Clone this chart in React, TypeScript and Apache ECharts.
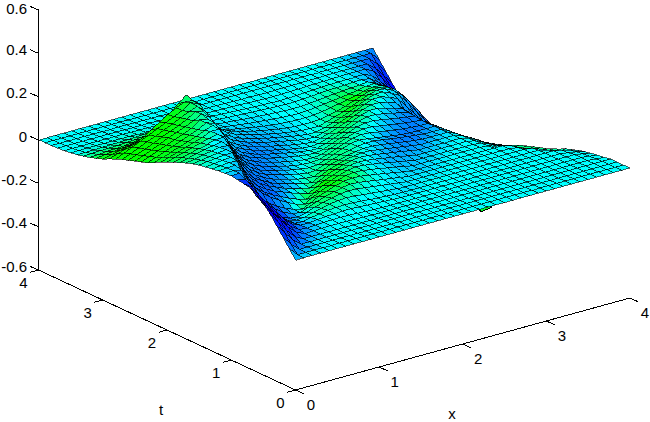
import React, { useEffect, useRef } from "react";
import * as echarts from "echarts";

// Surface heights in thousandths; one row per t (0 .. 4, step 0.1), one column per x (0 .. 4, step 0.1)
const zRows: number[][] = [
[0,0,0,0,0,0,0,0,0,0,0,0,0,0,0,0,0,0,0,0,0,0,0,0,0,0,0,0,0,0,0,0,0,0,0,0,0,0,0,0,0],
[40,0,0,0,0,0,0,0,0,0,0,0,0,0,0,0,0,0,0,0,0,0,0,0,0,0,0,0,0,0,0,0,0,0,0,0,0,0,0,0,0],
[80,35,0,0,0,0,0,0,0,0,0,0,0,0,0,0,0,0,0,0,0,0,0,0,0,0,0,0,0,0,0,0,0,0,0,0,0,0,0,0,0],
[120,75,30,0,0,0,0,0,0,0,0,0,0,0,0,0,0,0,0,0,0,0,0,0,0,0,0,0,0,0,0,0,0,0,0,0,0,0,0,0,0],
[160,110,60,20,0,0,0,0,0,0,0,0,0,0,0,0,0,0,0,0,0,0,0,0,0,0,0,0,0,0,0,0,0,0,0,0,0,0,0,-3,-6],
[190,140,95,50,15,0,2,3,4,4,3,2,1,0,0,0,0,0,0,0,0,0,0,0,0,0,0,0,0,0,0,0,0,0,0,0,0,0,0,-4,-10],
[215,165,115,70,30,5,0,3,5,7,8,7,5,3,1,0,0,0,0,0,0,0,0,0,0,0,0,0,0,0,0,0,0,0,0,0,0,0,0,-7,-15],
[235,195,145,95,50,15,0,0,5,8,10,12,12,10,8,6,4,2,0,0,0,0,0,0,0,0,0,0,0,0,0,0,0,0,0,0,0,0,-5,-12,-22],
[240,215,160,105,55,15,-5,-8,0,6,12,15,16,15,12,9,6,3,1,0,0,0,0,0,0,0,0,0,0,0,0,0,0,0,0,0,0,0,-8,-18,-30],
[245,235,180,120,65,20,-5,-15,-12,0,8,16,22,25,22,18,14,10,6,3,0,0,0,0,0,0,0,0,0,0,0,0,0,0,0,0,0,-10,-28,-42,-40],
[250,252,190,125,70,25,-5,-20,-25,-15,0,10,20,28,32,30,25,20,15,10,5,0,0,0,0,0,0,0,0,0,0,0,0,0,0,0,-5,-20,-40,-58,-50],
[248,250,240,170,105,55,20,-8,-22,-30,-15,0,12,24,34,38,36,30,24,18,12,6,0,0,0,0,0,0,0,0,0,0,0,0,0,-5,-22,-42,-62,-72,-65],
[245,248,250,185,120,70,32,8,-12,-28,-38,-20,0,14,28,38,42,40,34,28,21,14,7,0,0,0,0,0,0,0,0,0,0,0,0,-10,-30,-52,-72,-85,-78],
[240,244,248,245,170,105,65,35,12,-10,-28,-40,-20,0,14,28,40,44,42,36,30,22,15,8,0,0,0,0,0,0,0,0,0,-4,-15,-30,-50,-72,-90,-98,-90],
[235,240,245,248,200,125,75,45,22,3,-15,-30,-42,-22,0,14,28,40,45,42,36,30,22,15,8,0,0,0,0,0,0,0,0,-5,-20,-38,-58,-78,-96,-105,-100],
[230,236,240,245,245,175,100,60,35,15,0,-15,-28,-40,-20,0,14,28,38,42,40,35,28,22,15,8,0,0,0,0,0,0,0,-8,-25,-45,-65,-85,-103,-115,-110],
[222,228,234,240,245,215,135,80,48,25,8,-8,-20,-30,-38,-20,0,14,26,36,40,38,32,26,20,14,7,0,0,0,0,0,0,-10,-28,-50,-72,-92,-110,-122,-120],
[212,220,228,235,242,240,170,100,60,35,15,0,-12,-22,-32,-38,-18,0,12,24,32,36,35,30,24,18,12,6,0,0,0,0,0,-12,-32,-55,-78,-98,-116,-128,-130],
[200,210,220,228,236,243,210,135,80,48,25,8,-5,-15,-25,-32,-35,-18,0,10,20,28,32,32,28,22,16,10,5,0,0,0,0,-15,-38,-62,-85,-105,-122,-135,-145],
[188,198,208,218,228,238,240,175,105,62,35,15,2,-8,-18,-26,-32,-30,-15,0,10,20,28,32,32,26,20,15,10,5,0,0,0,-18,-42,-68,-90,-110,-128,-145,-160],
[175,187,198,209,220,230,240,215,140,80,45,22,8,-2,-12,-20,-27,-32,-28,-15,0,15,28,32,28,22,16,10,5,2,0,0,0,-20,-45,-72,-97,-118,-138,-157,-175],
[160,172,185,197,210,222,240,238,170,100,58,32,15,2,-8,-17,-25,-30,-32,-28,-15,0,14,27,33,30,24,18,12,7,3,0,0,-22,-50,-78,-105,-128,-150,-170,-188],
[145,160,172,185,198,212,228,243,205,125,72,42,22,8,-3,-12,-20,-27,-33,-35,-30,-15,0,15,28,35,34,28,22,15,10,5,0,-25,-52,-82,-110,-135,-158,-180,-200],
[130,145,160,175,190,205,220,240,228,160,90,52,30,15,3,-7,-15,-23,-30,-35,-38,-30,-15,0,15,30,38,38,32,25,18,12,5,-28,-58,-88,-118,-145,-170,-192,-212],
[120,135,150,165,180,195,212,240,232,190,115,65,38,20,7,-3,-12,-20,-28,-35,-40,-40,-30,-15,0,16,32,42,42,35,27,18,8,-30,-62,-95,-125,-155,-180,-205,-222],
[110,125,140,157,175,190,205,222,243,215,145,82,48,28,12,0,-10,-18,-27,-35,-42,-46,-42,-30,-15,0,18,35,46,45,36,25,12,-32,-68,-105,-140,-170,-195,-215,-230],
[100,115,130,147,165,180,197,215,240,230,180,105,60,35,18,5,-6,-15,-24,-32,-40,-46,-50,-42,-30,-15,0,18,36,48,48,38,25,-15,-50,-90,-130,-165,-195,-220,-235],
[90,105,122,140,155,172,190,208,225,240,205,135,78,45,25,10,-2,-12,-20,-28,-36,-44,-50,-52,-42,-30,-15,0,18,36,50,50,38,20,-25,-70,-115,-158,-195,-222,-240],
[78,95,112,130,147,165,182,200,218,243,225,165,95,55,32,15,2,-8,-17,-25,-33,-40,-47,-52,-52,-42,-30,-15,0,18,35,48,48,32,10,-35,-85,-135,-180,-220,-245],
[65,78,90,100,120,145,170,195,215,232,228,190,120,68,40,20,6,-5,-14,-22,-30,-37,-43,-48,-50,-50,-40,-28,-14,0,16,32,42,38,20,-10,-55,-105,-160,-210,-248],
[50,60,68,75,85,100,120,145,175,210,240,190,120,70,42,22,8,-3,-12,-20,-27,-34,-39,-43,-45,-45,-42,-35,-26,-14,0,14,26,30,22,0,-40,-95,-155,-215,-250],
[40,46,50,54,58,65,75,90,110,135,155,125,85,52,30,15,4,-4,-11,-18,-24,-29,-33,-36,-38,-38,-36,-31,-24,-17,-9,0,10,18,15,-5,-40,-90,-150,-210,-245],
[30,33,36,38,40,44,50,58,68,80,85,70,50,32,18,8,1,-4,-9,-14,-18,-22,-26,-29,-31,-32,-30,-26,-21,-16,-11,-6,0,8,10,-10,-50,-105,-160,-210,-240],
[22,24,26,27,28,30,33,36,40,45,48,42,32,22,13,6,1,-3,-6,-10,-13,-16,-19,-21,-23,-25,-24,-21,-17,-13,-9,-6,-3,0,4,-12,-45,-90,-140,-190,-235],
[15,15,16,17,18,19,20,22,24,26,28,25,20,14,9,4,1,-1,-4,-6,-9,-11,-13,-15,-16,-18,-17,-15,-12,-9,-7,-5,-3,-1,0,-5,-30,-70,-115,-165,-215],
[10,10,11,11,11,11,11,11,10,10,9,8,7,5,4,2,0,-1,-3,-5,-7,-9,-11,-12,-14,-15,-14,-12,-10,-8,-6,-4,-3,-2,-1,0,-15,-50,-95,-140,-190],
[6,6,6,7,7,7,7,7,6,6,5,5,4,3,2,1,0,-1,-2,-3,-4,-5,-7,-8,-9,-10,-9,-8,-7,-5,-4,-3,-2,-1,0,0,0,-20,-60,-110,-160],
[4,4,4,4,4,4,4,4,4,3,3,3,2,2,1,1,0,-1,-1,-2,-2,-3,-4,-4,-5,-6,-5,-4,-4,-3,-2,-2,-1,0,0,0,0,0,-30,-75,-120],
[2,2,2,2,2,2,2,2,2,2,1,1,1,1,0,0,0,0,0,0,0,0,0,0,0,0,0,0,0,0,0,0,0,0,0,0,0,0,0,-35,-80],
[1,1,1,1,1,1,1,1,1,1,0,0,0,0,0,0,0,0,0,0,0,0,0,0,0,0,0,0,0,0,0,0,0,0,0,0,0,0,0,0,-40],
[0,0,0,0,0,0,0,0,0,0,0,0,0,0,0,0,0,0,0,0,0,0,0,0,0,0,0,0,0,0,0,0,0,0,0,0,0,0,0,0,0],
];

// Colour index: -10 blue, 0 cyan, +10 green; rows t = 0, 0.2 .. 4, columns x = 0, 0.2 .. 4
const colorRows: number[][] = [
[-3,-1,0,0,0,0,0,0,0,0,0,0,0,0,0,0,0,0,0,0,0],
[-8,-5,-1,0,0,0,0,0,0,0,0,0,0,0,0,0,0,0,0,0,0],
[-10,-9,-5,-1,0,0,0,0,0,0,0,0,0,0,0,0,0,0,0,0,0],
[-10,-10,-8,-3,0,0,0,0,0,0,0,0,0,0,0,0,0,0,0,0,0],
[-8,-9,-8,-4,2,3,2,0,0,-1,-1,0,0,0,0,0,0,0,0,0,2],
[-2,-5,-8,-7,-2,5,6,4,1,0,-1,-1,-1,0,0,0,0,0,0,1,5],
[1,-2,-6,-6,-3,4,8,9,6,1,-1,-2,-2,-1,0,0,0,0,0,2,6],
[2,0,-3,-6,-6,-2,6,10,7,2,-1,-3,-3,-2,-1,0,0,0,0,2,8],
[4,2,-2,-5,-6,-5,-2,4,8,6,1,-2,-4,-4,-3,-1,0,0,0,1,8],
[6,5,0,-3,-5,-5,-4,0,4,6,4,0,-3,-5,-5,-3,-1,0,0,0,4],
[8,8,6,-1,-3,-5,-5,-3,0,3,5,3,0,-3,-5,-5,-3,-1,0,0,0],
[9,9,8,3,-2,-4,-5,-4,-2,1,3,5,3,0,-3,-5,-5,-3,-1,0,0],
[10,10,9,7,0,-2,-4,-5,-4,-2,0,3,6,4,0,-3,-5,-5,-3,-2,-1],
[10,10,10,9,4,-1,-2,-4,-4,-3,-1,0,4,8,5,0,-3,-5,-5,-4,-3],
[10,10,10,10,8,1,-1,-2,-3,-3,-2,-1,1,5,9,6,0,-3,-5,-7,-7],
[9,10,10,10,10,4,0,-1,-2,-2,-2,-1,0,2,6,10,6,-1,-5,-9,-10],
[4,5,6,7,6,2,0,0,-1,-1,-1,0,0,1,3,6,4,-3,-6,-10,-10],
[0,1,1,2,2,0,0,0,0,0,0,0,0,0,1,2,1,-2,-5,-9,-10],
[0,0,0,0,0,0,0,0,0,0,0,0,0,0,0,0,0,-1,-5,-9,-10],
[0,0,0,0,0,0,0,0,0,0,0,0,0,0,0,0,0,0,-3,-6,-8],
[0,0,0,0,0,0,0,0,0,0,0,0,0,0,0,0,0,0,-1,-2,-3],
];

// The low point of the surface, almost wholly hidden behind the near edge: [x, t, z]
const hiddenTrough: number[][] = [
  [2.95, 0.95, -0.222],
  [3.1, 0.98, -0.222],
  [3.12, 1.1, -0.21],
  [2.97, 1.08, -0.21],
];

const zTicks = [-0.6, -0.4, -0.2, 0, 0.2, 0.4, 0.6];
const zTickLabels = ["-0.6", "-0.4", "-0.2", "0", "0.2", "0.4", "0.6"];
const xTicks = [0, 1, 2, 3, 4];
const tTicks = [0, 1, 2, 3, 4];
const xTitle = "x";
const tTitle = "t";

const STEP = 0.1;
const project = (x: number, t: number, z: number): [number, number] => [
  295.5 + 83.6 * x - 64.25 * t,
  260 - 23 * x - 30 * t - 216.67 * z,
];

const cellColor = (i: number, j: number) => {
  const ri = Math.min(19, Math.floor(i / 2));
  const ci = Math.min(19, Math.floor(j / 2));
  const u = i / 2 - ri;
  const w = j / 2 - ci;
  const idx =
    colorRows[ri][ci] * (1 - u) * (1 - w) +
    colorRows[ri][ci + 1] * (1 - u) * w +
    colorRows[ri + 1][ci] * u * (1 - w) +
    colorRows[ri + 1][ci + 1] * u * w;
  const c = Math.round(255 * (1 - Math.abs(idx) / 10));
  return idx >= 0 ? `rgb(0,255,${c})` : `rgb(0,${c},255)`;
};

const cells: number[][] = [];
for (let i = zRows.length - 2; i >= 0; i--) {
  for (let j = zRows[i].length - 2; j >= 0; j--) cells.push([j, i]);
}

export default function App() {
  const ref = useRef<HTMLDivElement>(null);
  useEffect(() => {
    document.body.style.margin = "0";
    const chart = echarts.init(ref.current!, undefined, { renderer: "svg" });
    const font = "15px 'Liberation Sans', Arial, sans-serif";
    chart.setOption({
      animation: false,
      tooltip: { show: false },
      grid: { left: 0, right: 0, top: 0, bottom: 0 },
      xAxis: { type: "value", min: 0, max: 650, show: false },
      yAxis: { type: "value", min: 0, max: 422, inverse: true, show: false },
      series: [
        {
          type: "custom",
          silent: true,
          clip: false,
          progressive: 0,
          data: [[0, 0]],
          renderItem: (_p: any, api: any) => {
            const P = (x: number, t: number, z: number) => api.coord(project(x, t, z));
            const L = (a: number[], b: number[]) => ({
              type: "line",
              shape: { x1: a[0], y1: a[1], x2: b[0], y2: b[1] },
              style: { stroke: "#000", lineWidth: 1 },
            });
            const T = (s: string, p: number[], align: string) => ({
              type: "text",
              x: p[0],
              y: p[1],
              style: { text: s, font, fill: "#000", align, verticalAlign: "middle" },
            });
            const ch: any[] = [];
            ch.push(L(P(0, 4, -0.6), P(0, 4, 0.6)));
            ch.push(L(P(0, 0, -0.6), P(0, 4, -0.6)));
            ch.push(L(P(0, 0, -0.6), P(4, 0, -0.6)));
            zTicks.forEach((z, k) => {
              const a = P(0, 4, z);
              ch.push(L(a, [a[0] - 8.5, a[1] - 3.6]));
              ch.push(T(zTickLabels[k], [a[0] - 11.5, Math.max(8, a[1] - 4)], "right"));
            });
            tTicks.forEach((t) => {
              const a = P(0, t, -0.6);
              ch.push(L(a, [a[0] - 8.4, a[1] + 2.3]));
              ch.push(T(String(t), [a[0] - 15, a[1] + 12.5], "center"));
            });
            xTicks.forEach((x) => {
              const a = P(x, 0, -0.6);
              ch.push(L(a, [a[0] + 8.4, a[1] + 3.8]));
              ch.push(T(String(x), [Math.min(645, a[0] + 15.5), a[1] + 14], "center"));
            });
            ch.push(T(tTitle, [161, 409], "center"));
            ch.push(T(xTitle, [452, 413.5], "center"));
            ch.push({
              type: "polygon",
              shape: { points: hiddenTrough.map((p) => P(p[0], p[1], p[2])) },
              style: { fill: "rgb(0,255,40)", stroke: "#000", lineWidth: 1 },
            });
            return { type: "group", children: ch };
          },
        },
        {
          type: "custom",
          silent: true,
          clip: false,
          progressive: 0,
          data: cells,
          renderItem: (_p: any, api: any) => {
            const j = api.value(0);
            const i = api.value(1);
            const corner = (a: number, b: number) =>
              api.coord(project(b * STEP, a * STEP, zRows[a][b] / 1000));
            return {
              type: "polygon",
              shape: {
                points: [corner(i, j), corner(i, j + 1), corner(i + 1, j + 1), corner(i + 1, j)],
              },
              style: { fill: cellColor(i, j), stroke: "#000", lineWidth: 0.6 },
            };
          },
        },
      ],
    });
    return () => chart.dispose();
  }, []);
  return (
    <>
      <style>{"svg path{shape-rendering:crispEdges}"}</style>
      <div ref={ref} style={{ width: 650, height: 422 }} />
    </>
  );
}
